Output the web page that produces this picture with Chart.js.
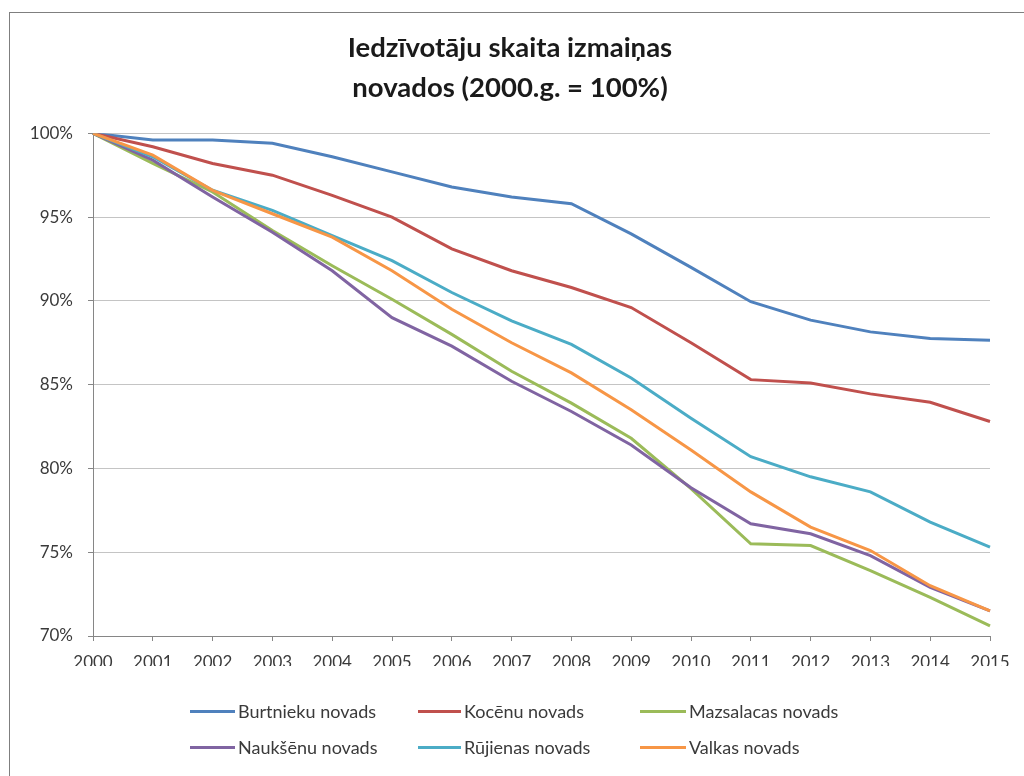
<!DOCTYPE html>
<html lang="lv">
<head>
<meta charset="utf-8">
<script src="https://cdn.jsdelivr.net/npm/chart.js@4/dist/chart.umd.min.js"></script>
<style>
  html, body { margin: 0; padding: 0; background: #fff; overflow: hidden; }
  #wrap { position: relative; width: 1024px; height: 776px; overflow: hidden; }
  #frame { position: absolute; left: 9px; top: 12px; width: 1200px; height: 1000px; border: 1px solid #7f7f7f; }
  canvas { position: absolute; left: 0; top: 0; }
  #legend { position: absolute; left: 0; top: 0; width: 1024px; height: 776px; pointer-events: none; }
  .item { position: absolute; display: flex; align-items: center; font: 18px Lato, sans-serif; color: #3a3a3a; white-space: nowrap; }
  .item i { display: inline-block; height: 3px; margin-right: 3px; }
</style>
</head>
<body>
<div id="wrap">
  <div id="frame"></div>
  <canvas id="chart" width="1024" height="776"></canvas>
  <div id="legend"></div>
</div>
<script>
// Данные
const years = ["2000", "2001", "2002", "2003", "2004", "2005", "2006", "2007",
  "2008", "2009", "2010", "2011", "2012", "2013", "2014", "2015"];
const burtnieku = [100, 99.6, 99.6, 99.4, 98.6, 97.7, 96.8, 96.2, 95.8, 94.0, 92.0, 89.95, 88.85, 88.15, 87.75, 87.65];
const kocenu = [100, 99.2, 98.2, 97.5, 96.3, 95.0, 93.1, 91.8, 90.8, 89.6, 87.5, 85.3, 85.1, 84.45, 83.95, 82.8];
const mazsalacas = [100, 98.2, 96.5, 94.2, 92.1, 90.1, 88.0, 85.8, 83.9, 81.8, 78.8, 75.5, 75.4, 73.9, 72.3, 70.6];
const naukshenu = [100, 98.4, 96.2, 94.1, 91.8, 89.0, 87.3, 85.2, 83.4, 81.4, 78.85, 76.7, 76.1, 74.8, 72.9, 71.5];
const rujienas = [100, 98.6, 96.6, 95.4, 93.9, 92.4, 90.5, 88.8, 87.4, 85.4, 83.0, 80.7, 79.5, 78.6, 76.8, 75.3];
const valkas = [100, 98.7, 96.6, 95.2, 93.8, 91.8, 89.5, 87.5, 85.7, 83.5, 81.1, 78.6, 76.5, 75.1, 73.0, 71.5];
const seriesNames = ["Burtnieku novads", "Kocēnu novads", "Mazsalacas novads",
  "Naukšēnu novads", "Rūjienas novads", "Valkas novads"];
const seriesColors = ["#4F81BD", "#C0504D", "#9BBB59", "#8064A2", "#4BACC6", "#F79646"];
const yTicks = [70, 75, 80, 85, 90, 95, 100];

const allValues = [burtnieku, kocenu, mazsalacas, naukshenu, rujienas, valkas];

const datasets = allValues.map((vals, i) => ({
  label: seriesNames[i],
  data: vals,
  borderColor: seriesColors[i],
  backgroundColor: seriesColors[i],
  borderWidth: 3,
  pointRadius: 0,
  tension: 0,
  order: allValues.length - i, // последняя серия сверху, как в Excel
}));

const tickFont = { family: "Lato", size: 17 };

new Chart(document.getElementById("chart"), {
  type: "line",
  data: { labels: years, datasets },
  options: {
    responsive: false,
    animation: false,
    // отступ слева, чтобы заголовок был по центру как в оригинале
    layout: { padding: { left: 30, right: 34, top: 0, bottom: 110 } },
    plugins: {
      legend: { display: false },
      tooltip: { enabled: false },
      title: {
        display: true,
        text: ["Iedzīvotāju skaita izmaiņas", "novados (2000.g. = 100%)"],
        color: "#1a1a1a",
        font: { family: "Lato", size: 27.5, weight: "bold", lineHeight: 1.46 },
        padding: { top: 28, bottom: 25 },
      },
    },
    scales: {
      x: {
        grid: { drawOnChartArea: false, drawTicks: true, tickLength: 5, color: "#868686" },
        border: { color: "#868686", width: 1 },
        ticks: { color: "#3a3a3a", font: tickFont, padding: 11, maxRotation: 0, autoSkip: false },
        afterFit: (scale) => { scale.height = 30; },
      },
      y: {
        min: 70,
        max: 100,
        afterBuildTicks: (scale) => { scale.ticks = yTicks.map((v) => ({ value: v })); },
        grid: { color: "#c4c4c4", tickColor: "#868686", tickLength: 5, lineWidth: 1 },
        border: { color: "#868686", width: 1 },
        ticks: { color: "#3a3a3a", font: tickFont, padding: 15, callback: (v) => v + "%" },
        afterFit: (scale) => { scale.width = 63; },
      },
    },
  },
});

// Легенда: 2 строки по 3 элемента
const legend = document.getElementById("legend");
const colX = [190, 418, 640];
const rowY = [712, 748];
const sampleW = [45, 43, 46];
seriesNames.forEach((name, i) => {
  const el = document.createElement("div");
  el.className = "item";
  el.style.left = colX[i % 3] + "px";
  el.style.top = (rowY[Math.floor(i / 3)] - 12) + "px";
  el.innerHTML = `<i style="width:${sampleW[i % 3]}px;background:${seriesColors[i]}"></i><span>${name}</span>`;
  legend.appendChild(el);
});
</script>
</body>
</html>
